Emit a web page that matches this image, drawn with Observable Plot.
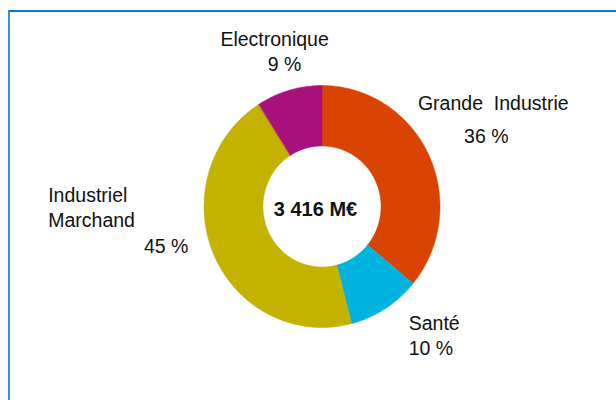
<!DOCTYPE html>
<html><head><meta charset="utf-8">
<script src="https://cdn.jsdelivr.net/npm/d3@7"></script>
<script src="https://cdn.jsdelivr.net/npm/@observablehq/plot@0.6"></script>
<style>
html,body{margin:0;padding:0;background:#fff;overflow:hidden;width:616px;height:400px}
#chart{position:absolute;left:0;top:0}
#frame{position:absolute;left:8px;top:10px;width:700px;height:500px;border-left:2px solid #3d8fd8;border-top:2px solid #0b78d6;z-index:2;pointer-events:none}
</style></head><body>
<div id="chart"></div><div id="frame"></div>
<script>
// ---- data ----
const segments = ["Grande\u00A0 Industrie", "Santé", "Industriel\nMarchand", "Electronique"];
const shares = [36, 10, 45, 9];
const shareLabels = ["36 %", "10 %", "45 %", "9 %"];
const colors = ["#DA4402", "#00B2DE", "#C4B200", "#A8107C"];
const totalLabel = "3 416 M€";

// ---- layout ----
const W = 616, H = 400;
const CX = 322, CY = 206.5, PX = 118, PY = 121; // center and px per unit radius
const INNER = 0.5;
const nameLayout = [
  {dx: 64, dy: -53, anchor: "middle"},
  {dx: 23, dy: 13, anchor: "start"},
  {dx: -166, dy: -49, anchor: "start"},
  {dx: -15, dy: -52.5, anchor: "middle"}
];
const pctLayout = [
  {dx: 57, dy: -19, anchor: "middle"},
  {dx: 23, dy: 40, anchor: "start"},
  {dx: -48, dy: -8, anchor: "middle"},
  {dx: -5, dy: -26.5, anchor: "middle"}
];

const arcs = d3.pie().sort(null).value(d => d)(shares);
const ring = [];
arcs.forEach((a, k) => {
  const n = Math.max(2, Math.ceil((a.endAngle - a.startAngle) / (Math.PI / 180)));
  for (let i = 0; i <= n; i++) {
    const t = a.startAngle + (a.endAngle - a.startAngle) * i / n;
    ring.push({name: segments[k], xi: INNER * Math.sin(t), yi: INNER * Math.cos(t), xo: Math.sin(t), yo: Math.cos(t)});
  }
});
const mids = arcs.map((a, k) => {
  const t = (a.startAngle + a.endAngle) / 2;
  return {name: segments[k], pct: shareLabels[k], x: Math.sin(t), y: Math.cos(t)};
});

const labelMarks = [];
mids.forEach((m, k) => {
  labelMarks.push(Plot.text([m], {x: "x", y: "y", text: "name", dx: nameLayout[k].dx, dy: nameLayout[k].dy,
    textAnchor: nameLayout[k].anchor, fontSize: 19.5, lineHeight: 1.28, fill: "#111"}));
  labelMarks.push(Plot.text([m], {x: "x", y: "y", text: "pct", dx: pctLayout[k].dx, dy: pctLayout[k].dy,
    textAnchor: pctLayout[k].anchor, fontSize: 19.5, fill: "#111"}));
});

const chart = Plot.plot({
  width: W, height: H, margin: 0,
  style: {fontFamily: "'Liberation Sans', Arial, sans-serif", background: "transparent"},
  x: {domain: [-CX / PX, (W - CX) / PX], axis: null},
  y: {domain: [-(H - CY) / PY, CY / PY], axis: null},
  color: {domain: segments, range: colors},
  marks: [
    Plot.area(ring, {x1: "xi", y1: "yi", x2: "xo", y2: "yo", z: "name", fill: "name", stroke: "name", strokeWidth: 0.5, curve: "linear"}),
    ...labelMarks,
    Plot.text([{t: totalLabel, x: 0, y: 0}], {x: "x", y: "y", text: "t", dx: -7, dy: 3, fontSize: 20, fontWeight: "bold", fill: "#111"})
  ]
});
document.getElementById("chart").appendChild(chart);
</script>
</body></html>
